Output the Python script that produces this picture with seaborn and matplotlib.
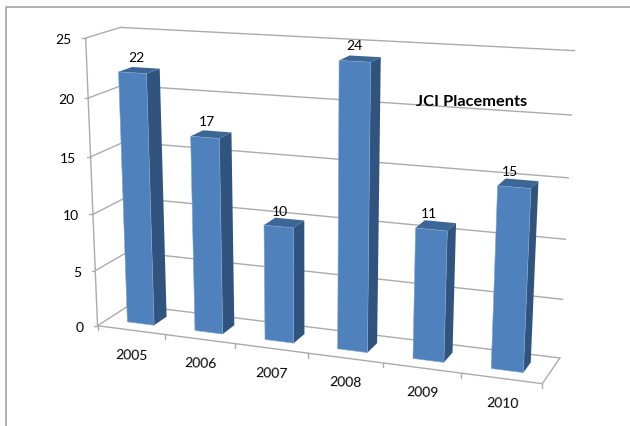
import numpy as np
import matplotlib

matplotlib.use('Agg')
import matplotlib.pyplot as plt
import seaborn as sns
from matplotlib.lines import Line2D
from matplotlib.patches import Polygon
from matplotlib.transforms import IdentityTransform, Transform

years = ['2005', '2006', '2007', '2008', '2009', '2010']
placements = [22, 17, 10, 24, 11, 15]
y_ticks = [0, 5, 10, 15, 20, 25]
chart_title = 'JCI Placements'

W, H = 630, 427
GRID = '#ababab'
FRONT = '#4f81bd'
SIDE = '#31547f'
TOP = '#3b6696'
BAR_W = 0.4
D_FRONT, D_BACK = 0.3, 0.7

# where known corners of the 3D box land in the picture: x, y, depth, px, py
anchors = [
    (-0.5, 0, 0, 98.3, 326.7), (-0.5, 25, 0, 84, 39), (5.5, 0, 0, 542.3, 385.7),
    (-0.5, 0, 1, 127, 308), (-0.5, 25, 1, 121.7, 28),
    (5.5, 25, 1, 574.3, 51.7), (5.5, 0, 1, 560, 357.3),
    (0.5, 0, 0, 165.3, 335), (1.5, 0, 0, 234.7, 345), (2.5, 0, 0, 306.7, 354.3),
    (3.5, 0, 0, 381.7, 363.3), (4.5, 0, 0, 460.3, 375),
    (-0.2, 0, 0.3, 128.3, 322.3), (0.2, 0, 0.3, 155, 325.7),
    (-0.2, 22, 0.3, 118.7, 72.3), (0.2, 22, 0.3, 146.7, 75),
    (4.8, 0, 0.3, 492.3, 369.3), (5.2, 0, 0.3, 524, 373.3),
    (4.8, 15, 0.3, 498.3, 186.7), (5.2, 15, 0.3, 531, 189.3),
    (0.2, 0, 0.7, 168, 316.7), (0.2, 22, 0.7, 160, 70),
    (5.2, 15, 0.7, 538, 182.7), (5.2, 0, 0.7, 530.7, 364),
]

# camera matrix fitted from the anchors (DLT)
rows = []
for x, y, d, px, py in anchors:
    rows.append([x, y, d, 1, 0, 0, 0, 0, -px * x, -px * y, -px * d, -px])
    rows.append([0, 0, 0, 0, x, y, d, 1, -py * x, -py * y, -py * d, -py])
CAM = np.linalg.svd(np.array(rows, dtype=float))[2][-1].reshape(3, 4)


def project(x, y, d):
    # picture pixels -> display coords (y up)
    x, y = np.asarray(x, dtype=float), np.asarray(y, dtype=float)
    p = np.stack([x, y, np.full_like(x, d), np.ones_like(x)], axis=-1) @ CAM.T
    return np.stack([p[..., 0] / p[..., 2], H - p[..., 1] / p[..., 2]], axis=-1)


class Perspective(Transform):
    input_dims = output_dims = 2
    is_affine = False

    def __init__(self, plane):
        super().__init__()
        self.plane = plane

    def transform_non_affine(self, values):
        values = np.asarray(values, dtype=float)
        return project(values[:, 0], values[:, 1], self.plane)


sns.set_theme(style='white')
plt.rcParams['font.family'] = ['Lato', 'DejaVu Sans']

fig = plt.figure(figsize=(W / 100, H / 100), dpi=100)
ax = fig.add_axes([0, 0, 1, 1])
sns.barplot(x=years, y=placements, color=FRONT, saturation=1, width=BAR_W, ax=ax)
ax.set_xlim(-0.5, 5.5)
ax.set_ylim(0, 25)
ax.axis('off')
pixels = IdentityTransform()


def line3d(x0, y0, d0, x1, y1, d1, **kw):
    a, b = project(x0, y0, d0), project(x1, y1, d1)
    fig.add_artist(Line2D([a[0], b[0]], [a[1], b[1]], transform=pixels, color=GRID,
                          lw=1.0, zorder=-1, **kw))


# picture frame
fig.add_artist(Line2D([6, 6, W], [0, H - 8, H - 8], transform=pixels, color='#aaaaaa', lw=1.3))

# walls and floor
for v in y_ticks:
    line3d(-0.5, v, 1, 5.5, v, 1)
    line3d(-0.5, v, 0, -0.5, v, 1)
    tip = project(-0.5, v, 0)
    fig.add_artist(Line2D([tip[0] - 3.5, tip[0]], [tip[1], tip[1]], transform=pixels, color=GRID, lw=1.0))
    ax.text(tip[0] - 14, tip[1] - 1, str(v), transform=pixels, ha='right', va='center',
            fontsize=10, color='black')
line3d(-0.5, 0, 0, -0.5, 25, 0)
line3d(-0.5, 0, 0, 5.5, 0, 0)
line3d(5.5, 0, 0, 5.5, 0, 1)

for i in range(len(years) + 1):
    tip = project(i - 0.5, 0, 0)
    fig.add_artist(Line2D([tip[0], tip[0]], [tip[1], tip[1] - 4.5], transform=pixels, color=GRID, lw=1.0))

# seaborn bars pushed into the box, then their side and top faces
for i, bar in enumerate(list(ax.patches)):
    x0, x1 = bar.get_x(), bar.get_x() + bar.get_width()
    v = bar.get_height()
    bar.set_transform(Perspective(D_FRONT))
    bar.set_clip_on(False)
    bar.set_edgecolor('#7fa3cf')
    bar.set_linewidth(0.4)
    bar.set_zorder(4)
    side = [project(x1, v, D_FRONT), project(x1, v, D_BACK), project(x1, 0, D_BACK), project(x1, 0, D_FRONT)]
    top = [project(x0, v, D_FRONT), project(x0, v, D_BACK), project(x1, v, D_BACK), project(x1, v, D_FRONT)]
    ax.add_patch(Polygon(side, closed=True, transform=pixels, fc=SIDE, ec='none', zorder=3, clip_on=False))
    ax.add_patch(Polygon(top, closed=True, transform=pixels, fc=TOP, ec='none', zorder=3, clip_on=False))

    mid = project(i, v, D_FRONT)
    ax.text(mid[0] + 4 - 1.6 * i, mid[1] + 16, str(placements[i]), transform=pixels,
            ha='center', va='center', fontsize=10, color='black', zorder=5)

    foot = project(i, 0, 0)
    ax.text(foot[0] + 1, foot[1] - 24, years[i], transform=pixels, ha='center', va='center',
            rotation=-2, rotation_mode='anchor', fontsize=10, color='black')

ax.text(471.5, H - 102, chart_title, transform=pixels, ha='center', va='center',
        fontsize=11.8, fontweight='bold', color='black', zorder=5)

fig.savefig('out.png', dpi=100)
